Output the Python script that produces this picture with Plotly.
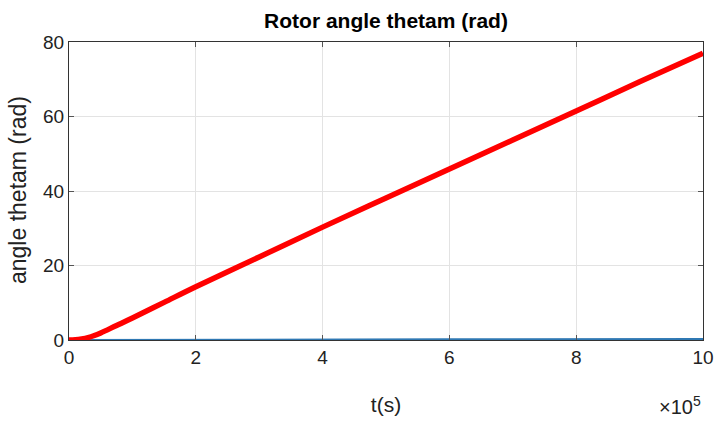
import plotly.graph_objects as go

# Time axis in units of 1e5 s
t = [0, 0.1, 0.2, 0.3, 0.4, 0.5, 0.75, 1, 1.5, 2, 3, 4, 5, 6, 7, 8, 9, 10]
# Rotor angle thetam (rad)
thetam = [0, 0.08, 0.3, 0.65, 1.2, 1.9, 3.9, 5.9, 10.1, 14.3, 22.3, 30.3, 38.1, 45.9, 53.7, 61.5, 69.3, 77.0]
# Second trace that stays near zero
omega = [0, 0, 0, 0.01, 0.01, 0.02, 0.03, 0.04, 0.05, 0.07, 0.1, 0.13, 0.16, 0.19, 0.22, 0.25, 0.28, 0.3]

x_ticks = [0, 2, 4, 6, 8, 10]
y_ticks = [0, 20, 40, 60, 80]

sans = "Liberation Sans, Arial, sans-serif"

# plot area in pixels
L, R, T, B = 69, 703, 42, 340
W, H = 715, 421

fig = go.Figure()
fig.add_trace(go.Scatter(x=t, y=omega, mode="lines",
                         line=dict(color="#2f78b3", width=2), showlegend=False))
fig.add_trace(go.Scatter(x=t, y=thetam, mode="lines", line_shape="spline",
                         line=dict(color="#ff0000", width=5.5), showlegend=False))

axis_common = dict(
    showline=True, linecolor="#333333", linewidth=1, mirror="ticks",
    ticks="inside", ticklen=5, tickcolor="#555555",
    showgrid=True, gridcolor="#e3e3e3", gridwidth=1,
    zeroline=False, automargin=False,
    tickfont=dict(family=sans, size=19, color="#222222"),
)

fig.update_layout(
    width=W, height=H,
    margin=dict(l=L, r=W - R, t=T, b=H - B),
    paper_bgcolor="white", plot_bgcolor="white",
    title=dict(text="<b>Rotor angle thetam (rad)</b>", x=(L + R) / 2 / W, xanchor="center",
               y=1 - 21 / H, yanchor="middle",
               font=dict(family=sans, size=21, color="#000000")),
    xaxis=dict(range=[0, 10], tickvals=x_ticks, ticktext=[str(v) for v in x_ticks],
               title=dict(text="t(s)", font=dict(family=sans, size=21, color="#222222"),
                          standoff=30),
               **axis_common),
    yaxis=dict(range=[0, 80], tickvals=y_ticks, ticktext=[str(v) for v in y_ticks],
               **axis_common),
)

# y-axis title
fig.add_annotation(text="angle thetam (rad)", xref="paper", yref="paper",
                   x=(18 - L) / (R - L), y=(B - 190) / (B - T), textangle=-90,
                   xanchor="center", yanchor="middle", showarrow=False,
                   font=dict(family=sans, size=23, color="#222222"))

# exponent label for the time axis
fig.add_annotation(text="×10<sup>5</sup>", xref="paper", yref="paper", x=1.0,
                   y=-(405 - B) / (B - T), xanchor="right", yanchor="middle", showarrow=False,
                   font=dict(family=sans, size=20, color="#222222"))

fig.write_html("out.html")
